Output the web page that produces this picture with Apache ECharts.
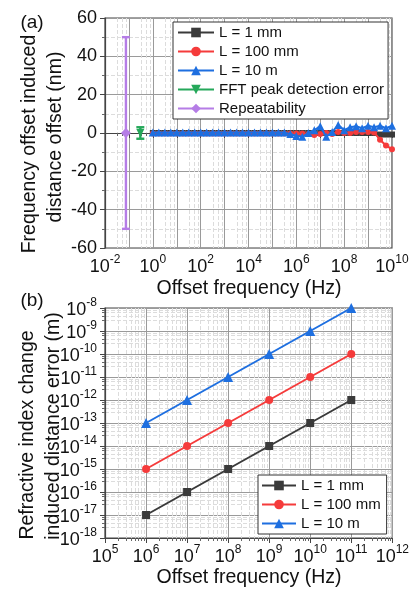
<!DOCTYPE html>
<html><head><meta charset="utf-8">
<script src="https://cdn.jsdelivr.net/npm/echarts@6/dist/echarts.min.js"></script>
<style>html,body{margin:0;padding:0;background:#fff}#c{width:412px;height:591px}</style>
</head><body><div id="c"></div>
<script>
// ---------- data, panel (a) ----------
const seriesNames = ['L = 1 mm', 'L = 100 mm', 'L = 10 m'];
const fftName = 'FFT peak detection error';
const repName = 'Repeatability';
const freqA = [1, 1.78, 3.16, 5.62, 10, 17.8, 31.6, 56.2, 100, 178, 316, 562,
  1e3, 1.78e3, 3.16e3, 5.62e3, 1e4, 1.78e4, 3.16e4, 5.62e4, 1e5, 1.78e5, 3.16e5, 5.62e5,
  1e6, 1.78e6, 3.16e6, 5.62e6, 1e7, 1.78e7, 3.16e7, 5.62e7, 1e8, 1.78e8, 3.16e8, 5.62e8,
  1e9, 1.78e9, 3.16e9, 5.62e9, 1e10];
const offset1mm = [0,0,0,0,0,0,0,0,0,0,0,0,0,0,0,0,0,0,0,0,0,0,0,0,
  0,0,0,0,0,0,0,0,0,0,0,0,0,0,-0.8,-0.8,-0.8];
const offset100mm = [-0.2,-0.2,-0.2,-0.2,-0.2,-0.2,-0.2,-0.2,-0.2,-0.2,-0.2,-0.2,-0.2,-0.2,-0.2,-0.2,
  -0.2,-0.2,-0.2,-0.2,-0.2,-0.2,-0.2,-0.2,-0.3,-0.3,-0.5,-1,-0.5,0,-0.5,0.5,0,0,0.5,0.5,0.5,0.3,-3.5,-6.5,-8.5];
const offset10m = [0.3,0.3,0.3,0.3,0.3,0.3,0.3,0.3,0.3,0.3,0.3,0.3,0.3,0.3,0.3,0.3,0.3,0.3,0.3,0.3,0.3,0.3,
  0.2,-0.5,-1.5,-2,0,1.5,3.5,-2,0.5,4.2,1.5,3,3.5,2.5,3.8,3,3.8,2.5,3.8];
const fftFreq = [0.3], fftValue = [0], fftLow = [-3], fftHigh = [3];
const repFreq = [0.075], repValue = [0], repLow = [-50], repHigh = [50];
const yTicksA = [-60, -40, -20, 0, 20, 40, 60];

// ---------- data, panel (b) ----------
const freqB = [1e6, 1e7, 1e8, 1e9, 1e10, 1e11];
const err1mm = [1e-17, 1e-16, 1e-15, 1e-14, 1e-13, 1e-12];
const err100mm = [1e-15, 1e-14, 1e-13, 1e-12, 1e-11, 1e-10];
const err10m = [1e-13, 1e-12, 1e-11, 1e-10, 1e-9, 1e-8];

// ---------- styling ----------
const FONT = "'Liberation Sans', Arial, sans-serif";
const colors = ['#3a3a3a', '#f53b3b', '#1e6fe0'];
const symbols = ['rect', 'circle', 'triangle'];
const green = '#25a85a', purple = '#b57de6';
const txt = '#111';
const rich = {
  b: {fontSize: 18, fontFamily: FONT, color: txt, lineHeight: 22, verticalAlign: 'bottom'},
  s: {fontSize: 12, fontFamily: FONT, color: txt, lineHeight: 12, verticalAlign: 'top'}
};
function powLabel(step) {
  return function (v) {
    const e = Math.round(Math.log10(v));
    if (e % step !== 0) return '';
    return '{b|10}{s|' + e + '}';
  };
}
const splitMajor = {show: true, lineStyle: {color: '#9a9a9a', width: 1}};
const splitMinor = {show: true, lineStyle: {color: '#dcdcdc', width: 1, type: 'dashed'}};
const axisLine = {show: true, lineStyle: {color: '#444', width: 1.2}};

function zip(xs, ys) { return xs.map((x, i) => [x, ys[i]]); }

const chart = echarts.init(document.getElementById('c'), null, {renderer: 'canvas'});

const errRender = function (params, api) {
  const x = api.value(0), lo = api.value(1), hi = api.value(2);
  const t = api.coord([x, hi]), b = api.coord([x, lo]);
  const w = 4, lw = 2.4, c = api.visual('color');
  const st = {fill: c, stroke: null, lineDash: null};
  return {type: 'group', children: [
    {type: 'rect', z2: 20, shape: {x: t[0] - lw / 2, y: t[1], width: lw, height: b[1] - t[1]}, style: st},
    {type: 'rect', z2: 20, shape: {x: t[0] - w, y: t[1] - lw / 2, width: 2 * w, height: lw}, style: st},
    {type: 'rect', z2: 20, shape: {x: b[0] - w, y: b[1] - lw / 2, width: 2 * w, height: lw}, style: st}
  ]};
};

const seriesA = [offset1mm, offset100mm, offset10m].map((ys, i) => ({
  type: 'line', name: seriesNames[i], xAxisIndex: 0, yAxisIndex: 0,
  data: zip(freqA, ys), symbol: symbols[i], symbolSize: i === 2 ? 8 : 6,
  color: colors[i], lineStyle: {width: 2}, z: 3 + i
}));
const seriesB = [err1mm, err100mm, err10m].map((ys, i) => ({
  type: 'line', name: seriesNames[i], xAxisIndex: 1, yAxisIndex: 1,
  data: zip(freqB, ys), symbol: symbols[i], symbolSize: i === 2 ? 10 : 8,
  color: colors[i], lineStyle: {width: 2}, z: 3 + i
}));

const legendCommon = {
  orient: 'vertical', backgroundColor: '#fff', borderColor: '#333', borderWidth: 1,
  borderRadius: 0, itemHeight: 12, itemGap: 4,
  textStyle: {fontSize: 15, fontFamily: FONT, color: txt}
};

function title(text, x, y, rot, size) {
  return {type: 'text', x: x, y: y, rotation: rot, style: {text: text, font: size + 'px ' + FONT, fill: txt, textAlign: 'center', textVerticalAlign: 'middle'}};
}

const option = {
  animation: false,
  backgroundColor: '#fff',
  grid: [
    {left: 105, right: 20, top: 18, height: 230, show: true, borderColor: '#444', borderWidth: 1.2, backgroundColor: 'transparent'},
    {left: 105, right: 19, top: 308, height: 230, show: true, borderColor: '#444', borderWidth: 1.2, backgroundColor: 'transparent'}
  ],
  xAxis: [
    {type: 'log', logBase: 10, gridIndex: 0, min: 0.01, max: 1e10, interval: 1, splitNumber: 12,
      axisLine: axisLine, axisTick: {show: true, length: 5, lineStyle: {color: '#444'}},
      minorTick: {show: true, splitNumber: 4, length: 3, lineStyle: {color: '#666'}},
      axisLabel: {formatter: powLabel(2), rich: rich, margin: 6, showMinLabel: true, showMaxLabel: true, hideOverlap: false, interval: 0},
      splitLine: splitMajor, minorSplitLine: splitMinor},
    {type: 'log', logBase: 10, gridIndex: 1, min: 1e5, max: 1e12, interval: 1, splitNumber: 7,
      axisLine: axisLine, axisTick: {show: true, length: 5, lineStyle: {color: '#444'}},
      minorTick: {show: true, splitNumber: 8, length: 3, lineStyle: {color: '#666'}},
      axisLabel: {formatter: powLabel(1), rich: rich, margin: 6, showMinLabel: true, showMaxLabel: true, hideOverlap: false, interval: 0},
      splitLine: splitMajor, minorSplitLine: splitMinor}
  ],
  yAxis: [
    {type: 'value', gridIndex: 0, min: yTicksA[0], max: yTicksA[yTicksA.length - 1], interval: 20,
      axisLine: axisLine, axisTick: {show: true, length: 5, lineStyle: {color: '#444'}},
      minorTick: {show: true, splitNumber: 2, length: 3, lineStyle: {color: '#666'}},
      axisLabel: {fontSize: 18, fontFamily: FONT, color: txt, margin: 8},
      splitLine: splitMajor, minorSplitLine: splitMinor},
    {type: 'log', logBase: 10, gridIndex: 1, min: 1e-18, max: 1e-8, interval: 1, splitNumber: 10,
      axisLine: axisLine, axisTick: {show: true, length: 5, lineStyle: {color: '#444'}},
      minorTick: {show: true, splitNumber: 5, length: 3, lineStyle: {color: '#666'}},
      axisLabel: {formatter: powLabel(1), rich: rich, margin: 8, showMinLabel: true, showMaxLabel: true, hideOverlap: false, interval: 0},
      splitLine: splitMajor, minorSplitLine: splitMinor}
  ],
  legend: [
    Object.assign({}, legendCommon, {data: seriesNames.concat([fftName, repName]), left: 173, top: 22, itemWidth: 36, padding: [3, 4, 3, 4]}),
    Object.assign({}, legendCommon, {data: seriesNames.slice(), left: 258, top: 475, itemWidth: 34, padding: [3, 6, 3, 3]})
  ],
  graphic: [
    title('(a)', 32, 23, 0, 19),
    title('(b)', 32, 301, 0, 19),
    title('Frequency offset induced', 30, 144, Math.PI / 2, 19.5),
    title('distance offset (nm)', 56, 137, Math.PI / 2, 19.5),
    title('Refractive index change', 28, 435, Math.PI / 2, 19.5),
    title('induced distance error (m)', 54, 426, Math.PI / 2, 19.5),
    title('Offset frequency (Hz)', 249, 289, 0, 19.5),
    title('Offset frequency (Hz)', 249, 578, 0, 19.5)
  ],
  series: seriesA.concat([
    {type: 'custom', name: 'fftErr', xAxisIndex: 0, yAxisIndex: 0, color: green, z: 10,
      data: fftFreq.map((x, i) => [x, fftLow[i], fftHigh[i]]), encode: {x: 0, y: [1, 2]}, renderItem: errRender},
    {type: 'custom', name: 'repErr', xAxisIndex: 0, yAxisIndex: 0, color: purple, z: 10,
      data: repFreq.map((x, i) => [x, repLow[i], repHigh[i]]), encode: {x: 0, y: [1, 2]}, renderItem: errRender},
    {type: 'line', name: fftName, xAxisIndex: 0, yAxisIndex: 0, data: zip(fftFreq, fftValue),
      symbol: 'triangle', symbolRotate: 180, symbolSize: 8, color: green, lineStyle: {width: 2}, z: 11},
    {type: 'line', name: repName, xAxisIndex: 0, yAxisIndex: 0, data: zip(repFreq, repValue),
      symbol: 'diamond', symbolSize: 10, color: purple, lineStyle: {width: 2}, z: 11}
  ]).concat(seriesB)
};
chart.setOption(option);
</script></body></html>
